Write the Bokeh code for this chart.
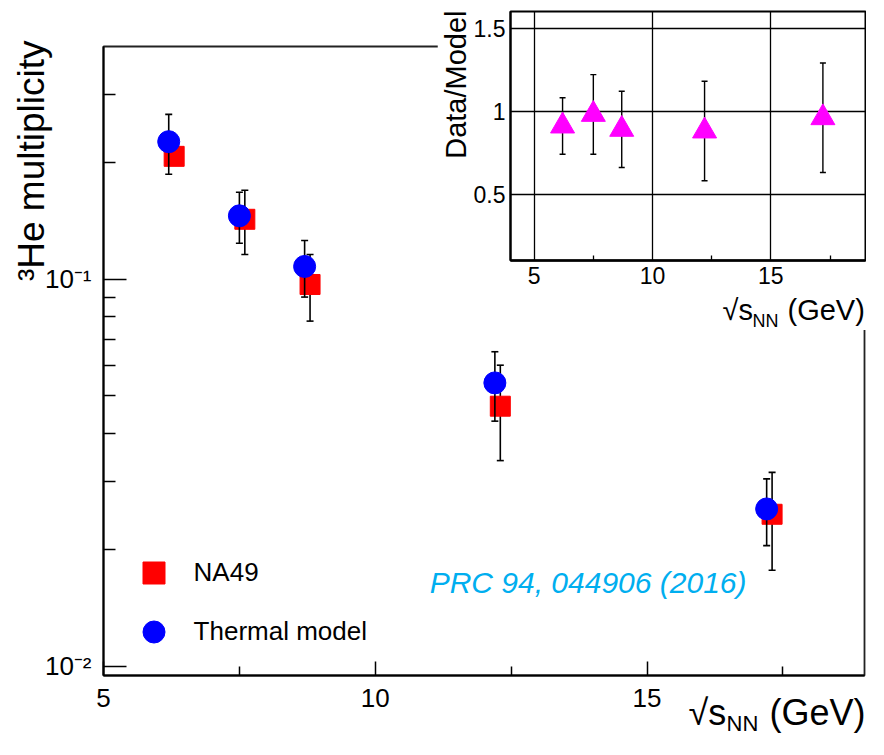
from bokeh.plotting import figure
from bokeh.models import Range1d, FixedTicker, Legend, LegendItem, Label, GridBox
from bokeh.embed import file_html
from bokeh.resources import INLINE

# ---------------- data ----------------
na49_x = [6.3, 7.6, 8.8, 12.3, 17.3]
na49_y = [0.208, 0.143, 0.097, 0.047, 0.0247]
na49_err = [0.008, 0.027, 0.019, 0.013, 0.007]

model_x = [6.2, 7.5, 8.7, 12.2, 17.2]
model_y = [0.227, 0.146, 0.108, 0.054, 0.0255]
model_err = [0.040, 0.022, 0.018, 0.011, 0.005]

ratio_x = [6.2, 7.5, 8.7, 12.2, 17.2]
ratio_y = [0.91, 0.98, 0.89, 0.88, 0.96]
ratio_err = [0.17, 0.24, 0.23, 0.30, 0.33]

main_x_ticks = [5, 10, 15]
main_x_minor = [7.5, 12.5, 17.5]
main_y_ticks = [0.01, 0.1]
main_y_labels = ["10⁻²", "10⁻¹"]
main_y_minor = [0.02, 0.03, 0.04, 0.05, 0.06, 0.07, 0.08, 0.09, 0.2, 0.3]

inset_x_ticks = [5, 10, 15]
inset_x_minor = [7.5, 12.5, 17.5]
inset_y_ticks = [0.5, 1, 1.5]
inset_y_labels = ["0.5", "1", "1.5"]

FONT = "Liberation Sans"
W, H = 868, 739
# grid tracks (kept distinct so that no two plots share a grid line -> no frame alignment)
COLS = [1, 436, 429, 1, 1]
ROWS = [1, 1, 328, 408, 1]
BASE_SHIFT = 0.35  # em: correction between requested and drawn baseline


def errbars(fig, x, y, e, cap, width):
    lo = [a - b for a, b in zip(y, e)]
    hi = [a + b for a, b in zip(y, e)]
    fig.segment(x0=x, y0=lo, x1=x, y1=hi, line_color="black", line_width=width)
    fig.scatter(x=list(x) + list(x), y=lo + hi, marker="dash", size=cap,
                line_color="black", line_width=width)


# ---------------- main plot ----------------
MW = COLS[1] + COLS[2] + COLS[3]
MH = ROWS[2] + ROWS[3]
p = figure(width=MW, height=MH, x_range=Range1d(5, 19), y_range=Range1d(0.00946, 0.4),
           y_axis_type="log", output_backend="svg", toolbar_location=None, title=None,
           min_border_left=102, min_border_right=3, min_border_top=44, min_border_bottom=63)
p.grid.visible = False
p.outline_line_color = "#222222"
p.outline_line_width = 1.8
p.background_fill_color = "white"
p.border_fill_color = "white"

xa = p.xaxis[0]
xa.ticker = FixedTicker(ticks=main_x_ticks, minor_ticks=main_x_minor)
xa.major_tick_in, xa.major_tick_out = 14, 0
xa.minor_tick_in, xa.minor_tick_out = 9, 0
xa.axis_line_width = 2
xa.major_tick_line_width = 1.5
xa.minor_tick_line_width = 1.5
xa.axis_line_color = xa.major_tick_line_color = xa.minor_tick_line_color = "black"
xa.major_label_text_font = FONT
xa.major_label_text_font_size = "26px"
xa.major_label_text_color = "black"
xa.major_label_standoff = 13

ya = p.yaxis[0]
ya.ticker = FixedTicker(ticks=main_y_ticks, minor_ticks=main_y_minor)
ya.major_label_overrides = dict(zip(main_y_ticks, main_y_labels))
ya.major_tick_in, ya.major_tick_out = 23, 0
ya.minor_tick_in, ya.minor_tick_out = 12, 0
ya.axis_line_width = 2
ya.major_tick_line_width = 1.5
ya.minor_tick_line_width = 1.5
ya.axis_line_color = ya.major_tick_line_color = ya.minor_tick_line_color = "black"
ya.major_label_text_font = FONT
ya.major_label_text_font_size = "26px"
ya.major_label_text_color = "black"
ya.major_label_standoff = 12

errbars(p, na49_x, na49_y, na49_err, 7, 1.6)
r_sq = p.scatter(na49_x, na49_y, marker="square", size=20, fill_color="#ff0000",
                 line_color="#ff0000", line_width=1)
errbars(p, model_x, model_y, model_err, 7, 1.6)
r_ci = p.scatter(model_x, model_y, marker="circle", size=22, fill_color="#0000ff",
                 line_color="#0000ff", line_width=1)

legend = Legend(items=[LegendItem(label="NA49", renderers=[r_sq]),
                       LegendItem(label="Thermal model", renderers=[r_ci])],
                location=(22.6, 16), glyph_width=55, glyph_height=55,
                label_standoff=13, spacing=4, padding=0, margin=0,
                border_line_alpha=0, background_fill_alpha=0,
                label_text_font=FONT, label_text_font_size="26px", label_text_color="black")
p.add_layout(legend)

p.add_layout(Label(x=11.0, y=0.0155, y_offset=BASE_SHIFT * 30, text="PRC 94, 044906 (2016)",
                   text_font=FONT, text_font_style="italic", text_font_size="30px",
                   text_color="#00aeef", text_baseline="alphabetic"))

# ---------------- inset ----------------
IW = COLS[2]
IH = ROWS[1] + ROWS[2]
q = figure(width=IW, height=IH, x_range=Range1d(4, 19), y_range=Range1d(0.1, 1.6),
           output_backend="svg", toolbar_location=None, title=None,
           min_border_left=73, min_border_right=1, min_border_top=10, min_border_bottom=70)
q.background_fill_color = "white"
q.border_fill_color = "white"
q.outline_line_color = "black"
q.outline_line_width = 2

qx = q.xaxis[0]
qx.ticker = FixedTicker(ticks=inset_x_ticks, minor_ticks=inset_x_minor)
qx.major_tick_in = qx.major_tick_out = 0
qx.minor_tick_in, qx.minor_tick_out = 5, 0
qx.minor_tick_line_width = 1.3
qx.axis_line_width = 2.5
qx.axis_line_color = qx.minor_tick_line_color = "black"
qx.major_label_text_font = FONT
qx.major_label_text_font_size = "23px"
qx.major_label_text_color = "black"
qx.major_label_standoff = 6

qy = q.yaxis[0]
qy.ticker = FixedTicker(ticks=inset_y_ticks)
qy.major_label_overrides = dict(zip(inset_y_ticks, inset_y_labels))
qy.major_tick_in = qy.major_tick_out = 0
qy.minor_tick_in = qy.minor_tick_out = 0
qy.axis_line_width = 2
qy.axis_line_color = "black"
qy.major_label_text_font = FONT
qy.major_label_text_font_size = "23px"
qy.major_label_text_color = "black"
qy.major_label_standoff = 5

q.xgrid.ticker = FixedTicker(ticks=inset_x_ticks)
q.ygrid.ticker = FixedTicker(ticks=inset_y_ticks)
for g in (q.xgrid[0], q.ygrid[0]):
    g.grid_line_color = "black"
    g.grid_line_width = 1.3
    g.grid_line_alpha = 1.0

errbars(q, ratio_x, ratio_y, ratio_err, 6, 1.4)
q.scatter(ratio_x, ratio_y, marker="triangle", size=24, fill_color="#ff00ff",
          line_color="#ff00ff", line_width=1)

# ---------------- transparent overlay for axis titles ----------------
o = figure(width=W, height=H, x_range=Range1d(0, W), y_range=Range1d(H, 0),
           x_axis_location=None, y_axis_location=None, toolbar_location=None,
           output_backend="svg", title=None, min_border=0)
o.grid.visible = False
o.outline_line_color = None
o.background_fill_alpha = 0
o.border_fill_alpha = 0


def title_text(x, y, text, size, rotated=False, **kw):
    # (x, y): wanted baseline anchor in page pixels
    shift = BASE_SHIFT * size
    if rotated:
        x -= shift
        kw.update(angle=90, angle_units="deg", text_align="right")
    else:
        y -= shift
    o.add_layout(Label(x=x, y=y, text=text, text_font=FONT, text_font_size=f"{size}px",
                       text_color="black", text_baseline="alphabetic", **kw))


# main y title (top-aligned, rotated)
title_text(44, 40, "³He multiplicity", 37, rotated=True)
# main x title
title_text(688, 725, "√s", 36)
title_text(726, 731, "NN", 22)
title_text(769, 725, "(GeV)", 36)
# inset y title
title_text(466, 10, "Data/Model", 29, rotated=True)
# inset x title
title_text(722, 320, "√s", 29)
title_text(752, 327, "NN", 18)
title_text(787, 320, "(GeV)", 29)

layout = GridBox(children=[(p, 2, 1, 2, 3), (q, 1, 2, 2, 1), (o, 0, 0, 5, 5)],
                 rows=[f"{r}px" for r in ROWS], cols=[f"{c}px" for c in COLS],
                 spacing=0)

open("out.html", "w").write(file_html(layout, INLINE))
